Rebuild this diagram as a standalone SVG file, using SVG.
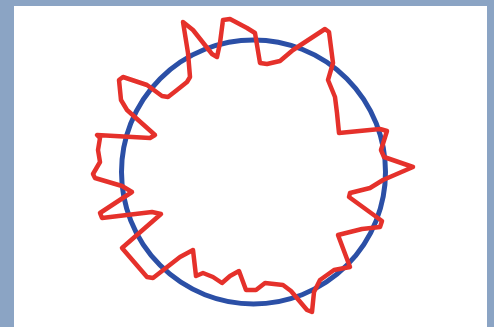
<svg xmlns="http://www.w3.org/2000/svg" width="494" height="327" viewBox="0 0 494 327">
<style>
.frame{fill:#8ba4c4}
.paper{fill:#ffffff}
.circle{fill:none;stroke:#2b4fa6;stroke-width:5}
.wave{fill:none;stroke:#e5312b;stroke-width:4.5;stroke-linejoin:round;stroke-linecap:round}
</style>
<rect class="frame" x="0" y="0" width="494" height="327"/>
<rect class="paper" x="14" y="6" width="473" height="321"/>
<g id="circle">
<circle class="circle" cx="253.5" cy="172" r="132"/>
</g>
<g id="wave">
<path class="wave" d="M183,22 L193,30 L212,54 L217,57 L220,43 L223,20 L230,19 L247,28 L255,33 L260,63 L267,64 L280,61 L293,50 L325,29 L329,32 L333,63 L328,80 L335,97 L337,113 L339,133 L380,129 L387,131 L381,150 L384,157 L413,167 L383,180 L370,188 L350,193 L349,197 L382,221 L380,227 L362,229 L338,235 L350,267 L334,270 L320,280 L314,292 L312,312 L307,310 L291,291 L283,285 L265,283 L256,290 L246,290 L239,271 L230,276 L222,283 L213,277 L203,273 L196,276 L193,250 L180,257 L153,278 L147,277 L122,248 L161,214 L152,212 L102,218 L100,213 L132,192 L122,186 L95,178 L93,174 L100,162 L98,150 L100,138 L97,135 L150,138 L155,135 L127,110 L121,100 L119,80 L123,77 L147,85 L162,96 L168,97 L177,90 L187,82 L190,77 L188,53 Z"/>
</g>
</svg>
